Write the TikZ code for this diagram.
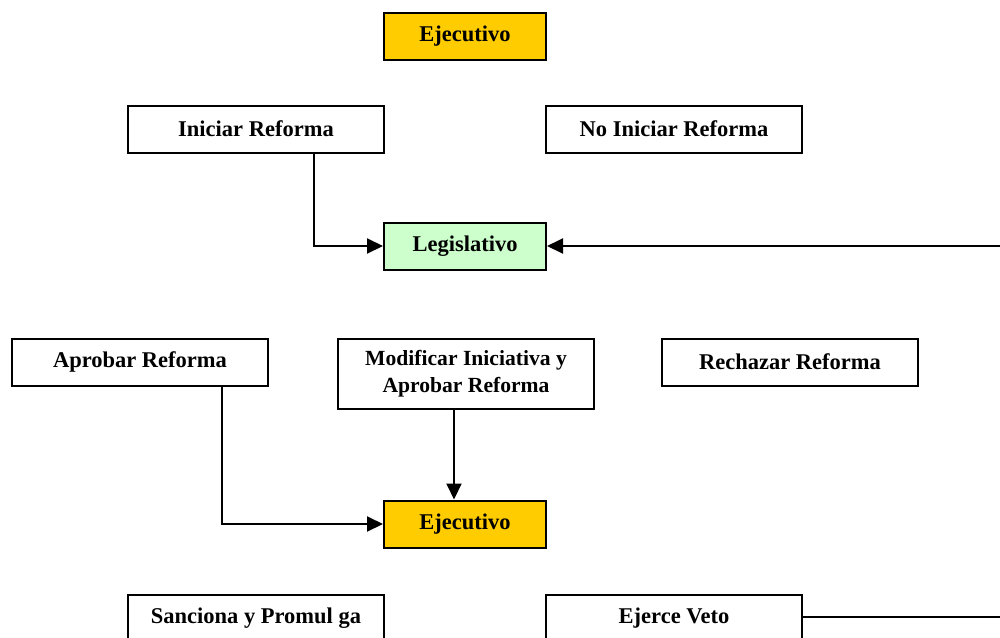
\documentclass[tikz,border=0pt]{standalone}
\usepackage{fontspec}
\setmainfont{Liberation Serif}
\usetikzlibrary{arrows.meta}
\definecolor{ejec}{HTML}{FFCC00}
\definecolor{legis}{HTML}{CCFFCC}
\tikzset{
  box/.style={draw=black, line width=2pt, minimum width=256pt, minimum height=47pt, inner sep=0pt, font=\fontsize{22.5}{27}\selectfont\bfseries, align=center},
  small/.style={box, minimum width=162pt},
  arr/.style={line width=2pt, -{Triangle[length=16pt,width=15pt]}},
  ln/.style={line width=2pt}
}
\begin{document}
\begin{tikzpicture}[x=1pt,y=1pt]
\useasboundingbox (0,0) rectangle (1000,-637);
\node[small, fill=ejec] (ej1) at (465,-36) {Ejecutivo};
\node[box] (ini) at (256,-129) {Iniciar Reforma};
\node[box] (noini) at (674,-129) {No Iniciar Reforma};
\node[small, fill=legis] (leg) at (465,-246) {Legislativo};
\node[box] (apr) at (140,-362) {Aprobar Reforma};
\node[box, minimum height=70pt, font=\fontsize{21.6}{27}\selectfont\bfseries] (mod) at (466,-374) {Modificar Iniciativa y\\Aprobar Reforma};
\node[box] (rech) at (790,-362) {Rechazar Reforma};
\node[small, fill=ejec] (ej2) at (465,-524) {Ejecutivo};
\node[box] (san) at (256,-618) {Sanciona y Promul ga};
\node[box] (veto) at (674,-618) {Ejerce Veto};
\coordinate (r1) at (1000,-246);
\coordinate (r2) at (1000,-617);
\draw[arr] ([xshift=58pt]ini.south) |- (leg.west);
\draw[arr] (r1) -- (leg.east);
\draw[arr] ([xshift=82pt]apr.south) |- (ej2.west);
\draw[arr] ([xshift=-12pt]mod.south) -- ([xshift=-12pt]mod.south |- ej2.north);
\draw[ln] (veto.east |- r2) -- (r2);
\end{tikzpicture}
\end{document}
